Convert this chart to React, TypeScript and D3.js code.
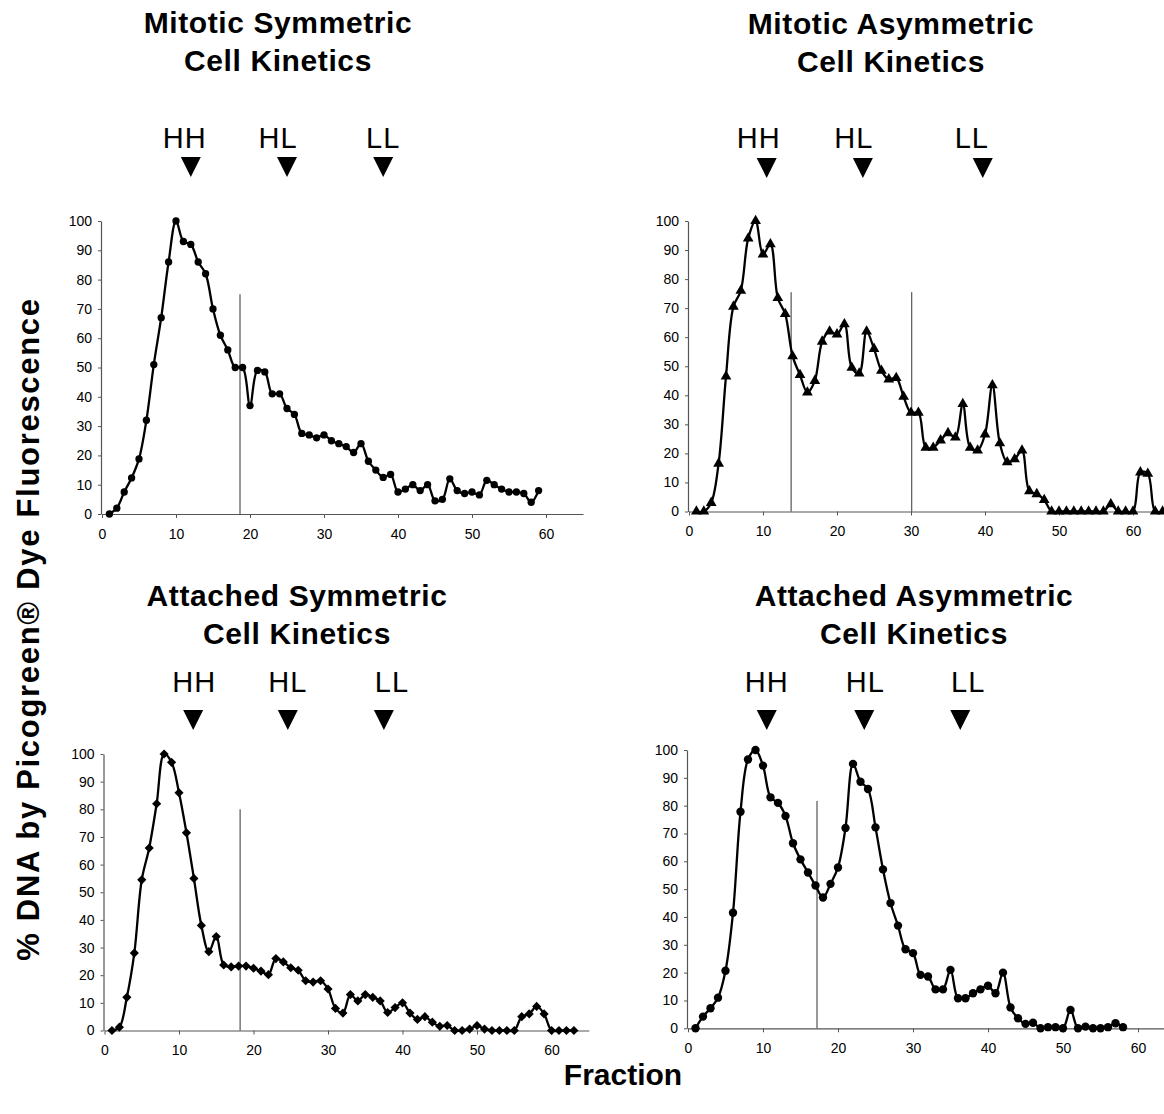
import * as React from 'react';
import {useEffect, useRef} from 'react';
import * as d3 from 'd3';

// fraction number is the index + 1
const fractionTicks = [0, 10, 20, 30, 40, 50, 60];
const percentTicks = [0, 10, 20, 30, 40, 50, 60, 70, 80, 90, 100];
const bandLabels = ['HH', 'HL', 'LL'];

const mitoticSymmetric = [
    0, 2, 7.5, 12.3, 18.8, 32, 51, 67, 86, 100,
    93, 92, 86, 82, 70, 61, 56, 50, 50, 37,
    49, 48.5, 41, 41, 36, 34, 27.5, 27, 26, 27,
    25, 24, 23, 21, 24, 18, 15, 12.5, 13.5, 7.5,
    8.5, 10, 8, 10, 4.5, 5, 12, 8, 7, 7.5,
    6.5, 11.5, 10, 8.5, 7.5, 7.5, 7, 4, 8
];
const mitoticAsymmetric = [
    0, 0, 3, 16.5, 46.5, 70.5, 76, 94, 100, 88.5,
    92, 73.5, 68, 53.5, 47, 41, 45, 58.5, 62, 61,
    64.5, 49.5, 47.5, 62, 56, 48.5, 45.5, 46, 39.5, 34,
    34, 22, 22, 24.5, 27, 25.5, 37, 22, 21, 26.5,
    43.5, 23.5, 17, 18, 21, 7, 6, 4, 0, 0,
    0, 0, 0, 0, 0, 0, 2.5, 0, 0, 0,
    13.5, 13, 0, 0
];
const attachedSymmetric = [
    0, 1.2, 12, 28, 54.5, 66, 82, 100, 97, 86,
    71.5, 55, 38, 28.5, 34, 23.7, 23, 23.3, 23.3, 22.5,
    21.5, 20.2, 26, 24.8, 22.7, 21.8, 18, 17.5, 18, 15,
    8, 6.3, 13, 10.7, 13, 12, 10.7, 6.5, 8.3, 10,
    6.3, 4, 5, 3, 1.5, 1.8, 0, 0, 0.5, 1.8,
    0.5, 0, 0, 0, 0, 5, 6, 8.7, 6, 0,
    0, 0, 0
];
const attachedAsymmetric = [
    0, 4.2, 7.2, 11, 20.7, 41.5, 77.8, 96.6, 100, 94.4,
    83, 81, 76.3, 66.5, 60.7, 56, 51.3, 47, 51.9, 57.8,
    72, 95, 88.6, 86, 72.2, 57.1, 45, 36.9, 28.4, 27,
    19.2, 18.6, 14, 14, 21, 10.8, 10.8, 12.6, 14, 15.3,
    12.6, 20, 7.5, 3.6, 1.6, 2, 0, 0.4, 0.4, 0,
    6.6, 0, 0.6, 0, 0, 0.4, 1.8, 0.4
];

// fractions where the HH / HL / LL arrows sit
const mitoticSymmetricBands = [12, 25, 38];
const mitoticAsymmetricBands = [10.5, 23.5, 39.7];
const attachedSymmetricBands = [11.9, 24.6, 37.5];
const attachedAsymmetricBands = [10.5, 23.5, 36.3];

// vertical cut lines: fraction and how high they go (% scale)
const mitoticSymmetricCuts = [18.65];
const mitoticSymmetricCutTops = [75];
const mitoticAsymmetricCuts = [13.8, 30.1];
const mitoticAsymmetricCutTops = [75.5, 75.5];
const attachedSymmetricCuts = [18.2];
const attachedSymmetricCutTops = [80];
const attachedAsymmetricCuts = [17.2];
const attachedAsymmetricCutTops = [81.7];

const FONT = '"Liberation Sans", Arial, Helvetica, sans-serif';

const panels = [
    {title: ['Mitotic Symmetric', 'Cell Kinetics'], values: mitoticSymmetric, marker: 'circle', msize: 42,
        bands: mitoticSymmetricBands, cuts: mitoticSymmetricCuts, cutTops: mitoticSymmetricCutTops,
        x0: 102, x1: 583, yb: 514, yt: 221, titleX: 278, titleY: 33, labelY: 148, arrowY: 157, labelDx: [-6, -9, 0]},
    {title: ['Mitotic Asymmetric', 'Cell Kinetics'], values: mitoticAsymmetric, marker: 'triangle', msize: 50,
        bands: mitoticAsymmetricBands, cuts: mitoticAsymmetricCuts, cutTops: mitoticAsymmetricCutTops,
        x0: 689, x1: 1170, yb: 511.5, yt: 221, titleX: 891, titleY: 34, labelY: 148, arrowY: 158, labelDx: [-8, -9, -11]},
    {title: ['Attached Symmetric', 'Cell Kinetics'], values: attachedSymmetric, marker: 'diamond', msize: 42,
        bands: attachedSymmetricBands, cuts: attachedSymmetricCuts, cutTops: attachedSymmetricCutTops,
        x0: 104.5, x1: 588.8, yb: 1030.5, yt: 754, titleX: 297, titleY: 606, labelY: 692, arrowY: 710, labelDx: [1, 0, 8]},
    {title: ['Attached Asymmetric', 'Cell Kinetics'], values: attachedAsymmetric, marker: 'circle', msize: 55,
        bands: attachedAsymmetricBands, cuts: attachedAsymmetricCuts, cutTops: attachedAsymmetricCutTops,
        x0: 688, x1: 1175.5, yb: 1028.3, yt: 750, titleX: 914, titleY: 606, labelY: 692, arrowY: 710, labelDx: [0, 1, 8]},
];

const App = () => {
    const chartRef = useRef(null);

    useEffect(() => {
        const svg = d3.select(chartRef.current);
        svg.selectAll('*').remove();

        svg.append('rect').attr('width', 1164).attr('height', 1114).attr('fill', '#fff');

        panels.forEach((p) => {
            const g = svg.append('g');
            const x = d3.scaleLinear().domain([0, 65]).range([p.x0, p.x1]);
            const y = d3.scaleLinear().domain([0, 100]).range([p.yb, p.yt]);

            // title
            const title = g.append('text')
                .attr('x', p.titleX)
                .attr('y', p.titleY)
                .attr('text-anchor', 'middle')
                .style('font-family', FONT)
                .style('font-weight', 'bold')
                .style('font-size', '30px')
                .style('letter-spacing', '0.6px');
            p.title.forEach((line, i) => {
                title.append('tspan').attr('x', p.titleX).attr('dy', i === 0 ? 0 : 38).text(line);
            });

            // HH / HL / LL arrows
            p.bands.forEach((f, i) => {
                const cx = x(f);
                g.append('text')
                    .attr('x', cx + p.labelDx[i])
                    .attr('y', p.labelY)
                    .attr('text-anchor', 'middle')
                    .style('font-family', FONT)
                    .style('font-size', '29px')
                    .style('letter-spacing', '1px')
                    .text(bandLabels[i]);
                g.append('path')
                    .attr('d', `M${cx - 10},${p.arrowY} L${cx + 10},${p.arrowY} L${cx},${p.arrowY + 20} Z`)
                    .attr('fill', '#000');
            });

            // axes
            const xAxis = g.append('g')
                .attr('transform', `translate(0, ${p.yb})`)
                .call(d3.axisBottom(x).tickValues(fractionTicks).tickSize(4).tickSizeOuter(0).tickPadding(11));
            const yAxis = g.append('g')
                .attr('transform', `translate(${p.x0 - 1}, 0)`)
                .call(d3.axisLeft(y).tickValues(percentTicks).tickSize(3).tickSizeOuter(0).tickPadding(6));
            [xAxis, yAxis].forEach((ax) => {
                ax.select('.domain').attr('stroke', '#555').attr('stroke-width', 1.2);
                ax.selectAll('.tick line').attr('stroke', '#555');
                ax.selectAll('text')
                    .style('font-family', FONT)
                    .style('font-size', '14px')
                    .attr('fill', '#000');
            });

            // cut lines
            p.cuts.forEach((f, i) => {
                g.append('line')
                    .attr('x1', x(f)).attr('x2', x(f))
                    .attr('y1', y(0)).attr('y2', y(p.cutTops[i]))
                    .attr('stroke', '#333')
                    .attr('stroke-width', 1);
            });

            const pts = p.values.map((v, i) => ({f: i + 1, v}));

            const line = d3.line()
                .x(d => x(d.f))
                .y(d => y(d.v))
                .curve(d3.curveCatmullRom.alpha(0.5));

            g.append('path')
                .datum(pts)
                .attr('d', line)
                .attr('fill', 'none')
                .attr('stroke', '#000')
                .attr('stroke-width', 2.3);

            const symType = p.marker === 'triangle' ? d3.symbolTriangle
                : p.marker === 'diamond' ? d3.symbolSquare : d3.symbolCircle;
            const sym = d3.symbol().type(symType).size(p.msize);

            g.selectAll('path.mark')
                .data(pts)
                .enter()
                .append('path')
                .attr('class', 'mark')
                .attr('d', sym)
                .attr('transform', d => `translate(${x(d.f)},${y(d.v)})` + (p.marker === 'diamond' ? ' rotate(45)' : ''))
                .attr('fill', '#000');
        });

        svg.append('text')
            .attr('transform', 'translate(39, 629) rotate(-90)')
            .attr('text-anchor', 'middle')
            .style('font-family', FONT)
            .style('font-weight', 'bold')
            .style('font-size', '31px')
            .style('letter-spacing', '1.7px')
            .text('% DNA by Picogreen® Dye Fluorescence');

        svg.append('text')
            .attr('x', 623)
            .attr('y', 1085)
            .attr('text-anchor', 'middle')
            .style('font-family', FONT)
            .style('font-weight', 'bold')
            .style('font-size', '30px')
            .text('Fraction');
    }, []);

    return (
        <svg ref={chartRef} width={1164} height={1114}
             style={{position: 'absolute', left: 0, top: 0, display: 'block'}}></svg>
    );
};

export default App;
